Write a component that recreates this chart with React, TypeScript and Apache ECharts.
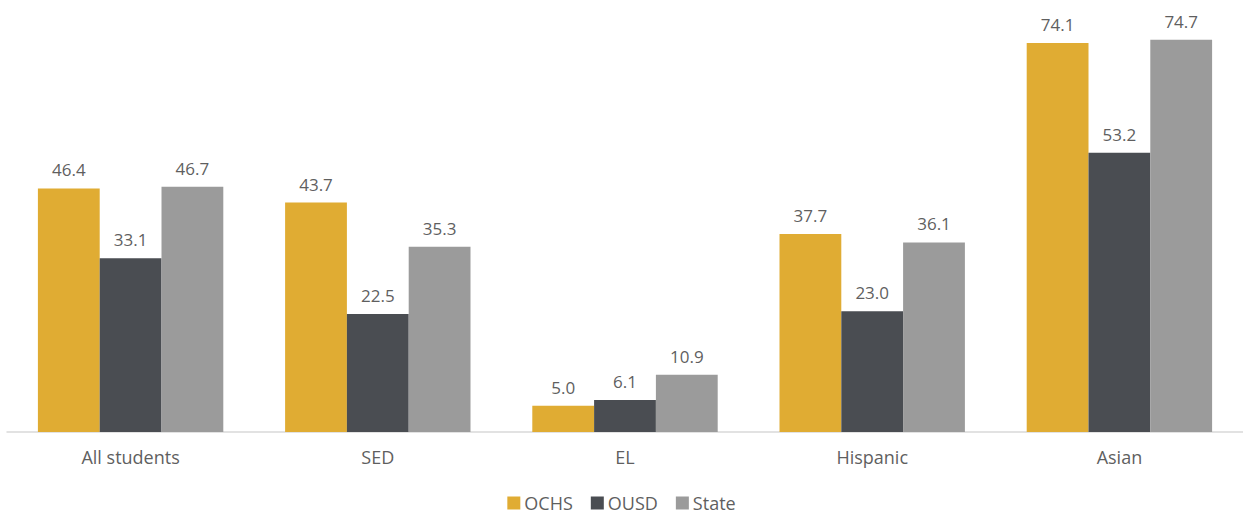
import React, { useEffect, useRef } from "react";
import * as echarts from "echarts";

const categories = ["All students", "SED", "EL", "Hispanic", "Asian"];
const ochs = [46.4, 43.7, 5.0, 37.7, 74.1];
const ousd = [33.1, 22.5, 6.1, 23.0, 53.2];
const state = [46.7, 35.3, 10.9, 36.1, 74.7];
const seriesNames = ["OCHS", "OUSD", "State"];
const colors = ["#E0AC33", "#4A4D52", "#9B9B9B"];

export default function App() {
  const ref = useRef<HTMLDivElement>(null);
  useEffect(() => {
    if (!ref.current) return;
    const chart = echarts.init(ref.current, undefined, { renderer: "svg" });
    const data = [ochs, ousd, state];
    chart.setOption({
      animation: false,
      textStyle: { fontFamily: "Open Sans" },
      grid: { left: 7, width: 1241, top: 12, bottom: 85, containLabel: false },
      legend: {
        top: 494,
        left: "center",
        padding: 0,
        itemWidth: 13,
        itemHeight: 13,
        itemGap: 18,
        icon: "rect",
        textStyle: { color: "#5f5f5f", fontSize: 18, lineHeight: 18, padding: [0, 0, 0, -1] },
        data: seriesNames,
      },
      xAxis: {
        type: "category",
        data: categories,
        axisLine: { lineStyle: { color: "#D9D9D9", width: 1.5 } },
        axisTick: { show: false },
        axisLabel: { color: "#5f5f5f", fontSize: 18, margin: 16 },
      },
      yAxis: { type: "value", min: 0, max: 80, show: false, splitLine: { show: false } },
      series: seriesNames.map((name, i) => ({
        name,
        type: "bar",
        data: data[i],
        barGap: "0%",
        barCategoryGap: "25%",
        itemStyle: { color: colors[i] },
        label: {
          show: true,
          position: "top",
          distance: 10,
          color: "#5f5f5f",
          fontSize: 17,
          formatter: (p: any) => Number(p.value).toFixed(1),
        },
      })),
    });
    return () => chart.dispose();
  }, []);
  return (
    <div
      ref={ref}
      style={{ position: "absolute", left: 0, top: 0, width: 1243, height: 517 }}
    />
  );
}
